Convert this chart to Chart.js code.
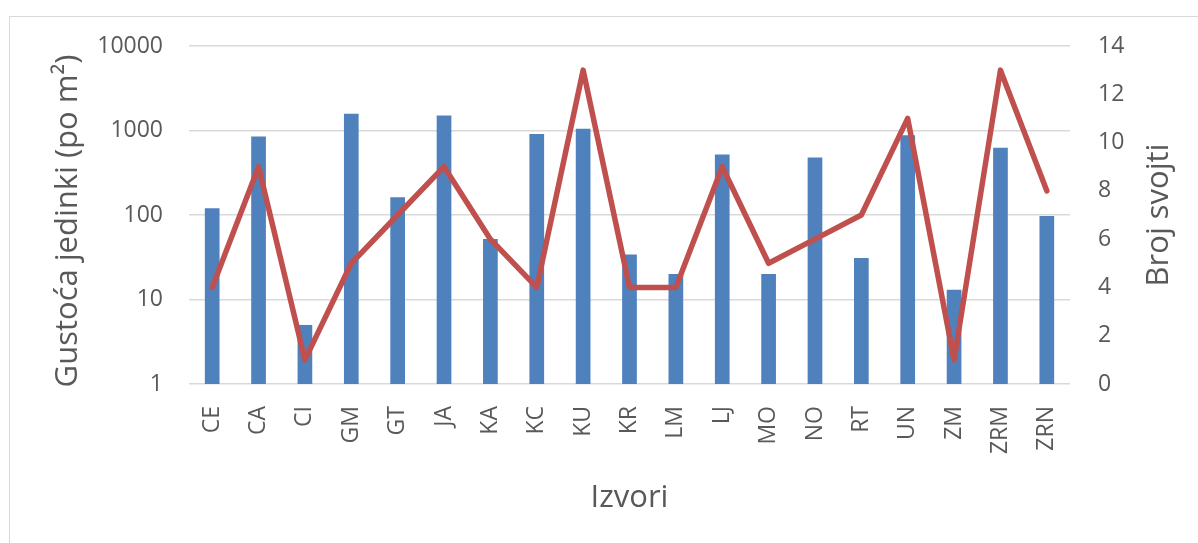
<!DOCTYPE html>
<html>
<head>
<meta charset="utf-8">
<script src="https://cdn.jsdelivr.net/npm/chart.js@4"></script>
<style>
html,body{margin:0;padding:0;background:#fff;overflow:hidden;}
#wrap{position:absolute;left:0;top:0;width:1198px;height:543px;}
#frame{position:absolute;left:9px;top:16px;width:1300px;height:700px;border:1.5px solid #d9d9d9;box-sizing:border-box;}
canvas{position:absolute;left:0;top:0;}
</style>
</head>
<body>
<div id="wrap">
<div id="frame"></div>
<canvas id="c" width="1198" height="543"></canvas>
</div>
<script>
const categories = ["CE","CA","CI","GM","GT","JA","KA","KC","KU","KR","LM","LJ","MO","NO","RT","UN","ZM","ZRM","ZRN"];
const density = [120, 850, 5, 1580, 162, 1510, 52, 910, 1050, 34, 20, 520, 20, 480, 31, 880, 13, 625, 97];
const taxa = [4, 9, 1, 5, 7, 9, 6, 4, 13, 4, 4, 9, 5, 6, 7, 11, 1, 13, 8];
const leftTicks = [1, 10, 100, 1000, 10000];
const rightTicks = [0, 2, 4, 6, 8, 10, 12, 14];
const leftTitle = "Gustoća jedinki (po m²)";
const rightTitle = "Broj svojti";
const xTitle = "Izvori";

const FONT = "'Open Sans', sans-serif";
const TXT = "#595959";

const titlePlugin = {
  id: 'titles',
  afterDraw(chart) {
    const ctx = chart.ctx;
    const a = chart.chartArea;
    ctx.save();
    ctx.fillStyle = TXT;
    ctx.font = "31px " + FONT;
    ctx.textAlign = 'center';
    ctx.textBaseline = 'alphabetic';
    ctx.fillText(xTitle, (a.left + a.right) / 2, 507);
    ctx.save();
    ctx.translate(77, 221);
    ctx.rotate(-Math.PI / 2);
    ctx.fillText(leftTitle, 0, 0);
    ctx.restore();
    ctx.save();
    ctx.translate(1168, 215);
    ctx.rotate(-Math.PI / 2);
    ctx.fillText(rightTitle, 0, 0);
    ctx.restore();
    ctx.restore();
  }
};

new Chart(document.getElementById('c'), {
  type: 'bar',
  data: {
    labels: categories,
    datasets: [
      {
        type: 'line',
        label: rightTitle,
        data: taxa,
        yAxisID: 'y1',
        borderColor: '#c0504d',
        backgroundColor: '#c0504d',
        borderWidth: 5.5,
        pointRadius: 0,
        borderJoinStyle: 'round',
        borderCapStyle: 'round',
        tension: 0,
        order: 0
      },
      {
        type: 'bar',
        label: leftTitle,
        data: density,
        yAxisID: 'y',
        backgroundColor: '#4f81bd',
        borderWidth: 0,
        categoryPercentage: 1,
        barPercentage: 0.317,
        order: 1
      }
    ]
  },
  options: {
    responsive: false,
    animation: false,
    devicePixelRatio: 1,
    layout: { padding: { top: 46, left: 0, right: 0, bottom: 0 } },
    plugins: { legend: { display: false }, tooltip: { enabled: false } },
    scales: {
      x: {
        offset: true,
        grid: { display: false, drawTicks: false },
        border: { display: false },
        ticks: {
          color: TXT, font: { family: FONT, size: 23 },
          minRotation: 90, maxRotation: 90, padding: 22, autoSkip: false
        },
        afterFit(s) { s.height = 159; }
      },
      y: {
        type: 'logarithmic',
        position: 'left',
        min: 1, max: 10000,
        grid: { color: '#d9d9d9', lineWidth: 1.5, drawTicks: false },
        border: { display: false },
        afterBuildTicks(s) { s.ticks = leftTicks.map(v => ({ value: v, major: false })); },
        ticks: {
          color: TXT, font: { family: FONT, size: 23 }, padding: 26,
          callback: v => String(v)
        },
        afterFit(s) { s.width = 189; }
      },
      y1: {
        type: 'linear',
        position: 'right',
        min: 0, max: 14,
        grid: { display: false, drawTicks: false },
        border: { display: false },
        afterBuildTicks(s) { s.ticks = rightTicks.map(v => ({ value: v })); },
        ticks: {
          color: TXT, font: { family: FONT, size: 23 }, padding: 28,
          callback: v => String(v)
        },
        afterFit(s) { s.width = 128; }
      }
    }
  },
  plugins: [titlePlugin]
});
</script>
</body>
</html>
